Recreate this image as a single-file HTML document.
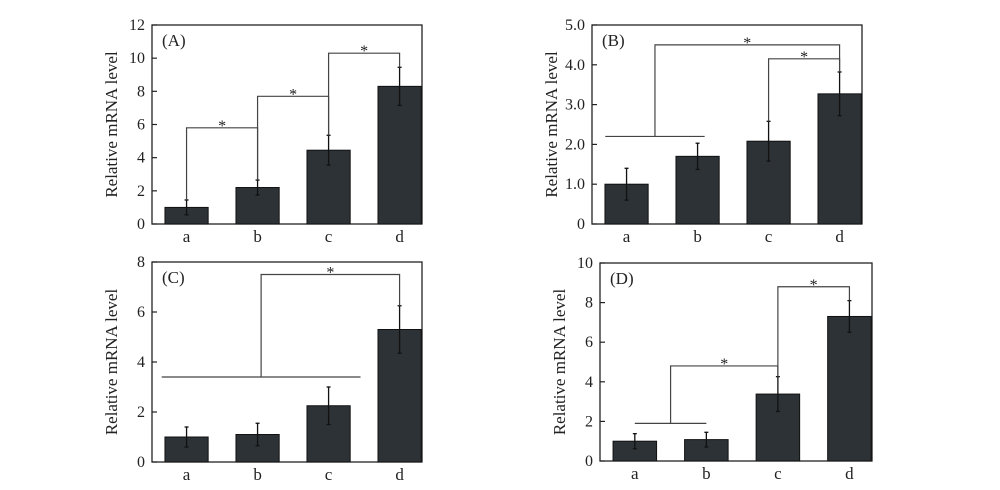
<!DOCTYPE html>
<html><head><meta charset="utf-8">
<style>
html,body{margin:0;padding:0;background:#fff;}
svg, svg text{font-family:"Liberation Serif","Times New Roman",serif;}
</style></head>
<body>
<svg id="chart" width="1000" height="485" viewBox="0 0 1000 485"></svg>
<script>
const categories = ['a','b','c','d'];
const valuesA = [1.0, 2.2, 4.45, 8.3];
const errorsA = [0.45, 0.45, 0.9, 1.15];
const valuesB = [1.0, 1.7, 2.08, 3.27];
const errorsB = [0.4, 0.33, 0.5, 0.55];
const valuesC = [1.0, 1.1, 2.25, 5.3];
const errorsC = [0.4, 0.45, 0.75, 0.95];
const valuesD = [1.0, 1.08, 3.38, 7.3];
const errorsD = [0.38, 0.37, 0.88, 0.8];
const ticksA = ['0','2','4','6','8','10','12'];
const ticksB = ['0','1.0','2.0','3.0','4.0','5.0'];
const ticksC = ['0','2','4','6','8'];
const ticksD = ['0','2','4','6','8','10'];
// brackets: [fromIdx, toIdx, level]
const bracketsA = [[0,1,5.8],[1,2,7.7],[2,3,10.3]];
const bracketsB = [[2,3,4.15]];
const bracketsC = [];
const bracketsD = [[2,3,8.8]];
// group brackets: [groupStartIdx, groupEndIdx, groupLevel, targetIdx, level]
const groupsB = [[-0.3,1.1,2.2,3,4.5]];
const groupsC = [[-0.35,2.45,3.4,3,7.5]];
const groupsD = [[0,1,1.9,2,4.8]];

const svg = document.getElementById('chart');
const NS = 'http://www.w3.org/2000/svg';
const FF = 'Liberation Serif, Times New Roman, serif';
function mk(tag, attrs, parent){const e=document.createElementNS(NS,tag);for(const k in attrs)e.setAttribute(k,attrs[k]);if(tag==='text')e.setAttribute('font-family',FF);(parent||svg).appendChild(e);return e;}

function panel(id,label,L,R,T,B,ymax,ticks,vals,errs,brs,groups){
  const g=mk('g',{});
  
  
  const w=R-L;
  const y=v=>B-(v/ymax)*(B-T);
  const x=i=>L+w*(0.128+0.263*i);
  const bw=w*0.16;
  const frame=mk('rect',{x:L,y:T,width:w,height:B-T,fill:'none',stroke:'#222','stroke-width':1.3},g);
  
  
  ticks.forEach((t,k)=>{
    const v=ymax*k/(ticks.length-1);
    mk('line',{x1:L,x2:L+5,y1:y(v),y2:y(v),stroke:'#222','stroke-width':1.2},g);
    const tx=mk('text',{x:L-7,y:y(v)+5,'text-anchor':'end','font-size':16,fill:'#222'},g);
    tx.textContent=t;
    
    
  });
  const yt=mk('text',{transform:`translate(${L-35},${(T+B)/2}) rotate(-90)`,'text-anchor':'middle','font-size':17,fill:'#222'},g);
  yt.textContent='Relative mRNA level';
  
  
  const pl=mk('text',{x:L+10,y:T+21,'font-size':17,fill:'#222'},g);
  pl.textContent=label;
  
  
  vals.forEach((v,i)=>{
    const r=mk('rect',{x:x(i)-bw/2,y:y(v),width:bw,height:B-y(v),fill:'#2d3236',stroke:'#111','stroke-width':1},g);
    
    
    const e=errs[i];
    mk('line',{x1:x(i),x2:x(i),y1:y(v-e),y2:y(v+e),stroke:'#111','stroke-width':1.3},g);
    mk('line',{x1:x(i)-2,x2:x(i)+2,y1:y(v+e),y2:y(v+e),stroke:'#111','stroke-width':1.3},g);
    mk('line',{x1:x(i)-2,x2:x(i)+2,y1:y(v-e),y2:y(v-e),stroke:'#111','stroke-width':1.3},g);
    const c=mk('text',{x:x(i),y:B+18,'text-anchor':'middle','font-size':17,fill:'#222'},g);
    c.textContent=categories[i];
    
    
  });
  const top=i=>y(vals[i]+errs[i]);
  const star=(xm,yl)=>{const s=mk('text',{x:xm,y:yl+3,'text-anchor':'middle','font-size':16,fill:'#222'},g);s.textContent='*';
    };
  brs.forEach(b=>{
    const [a,c,lv]=b;const yl=y(lv);
    const p=mk('polyline',{points:`${x(a)},${top(a)} ${x(a)},${yl} ${x(c)},${yl} ${x(c)},${top(c)}`,fill:'none',stroke:'#444','stroke-width':1.2},g);
    
    
    star((x(a)+x(c))/2,yl);
  });
  groups.forEach(gp=>{
    const [s,e,gl,t,lv]=gp;const yg=y(gl),yl=y(lv);
    const mid=(x(s)+x(e))/2;
    mk('line',{x1:x(s),x2:x(e),y1:yg,y2:yg,stroke:'#444','stroke-width':1.2},g);
    const p=mk('polyline',{points:`${mid},${yg} ${mid},${yl} ${x(t)},${yl} ${x(t)},${top(t)}`,fill:'none',stroke:'#444','stroke-width':1.2},g);
    
    
    star((mid+x(t))/2,yl);
  });
}
panel('a','(A)',152,422,25,224,12,ticksA,valuesA,errorsA,bracketsA,[]);
panel('b','(B)',592,862,25,224,5,ticksB,valuesB,errorsB,bracketsB,groupsB);
panel('c','(C)',152,422,262,462,8,ticksC,valuesC,errorsC,bracketsC,groupsC);
panel('d','(D)',600,872,263,461,10,ticksD,valuesD,errorsD,bracketsD,groupsD);
</script>
</body></html>
